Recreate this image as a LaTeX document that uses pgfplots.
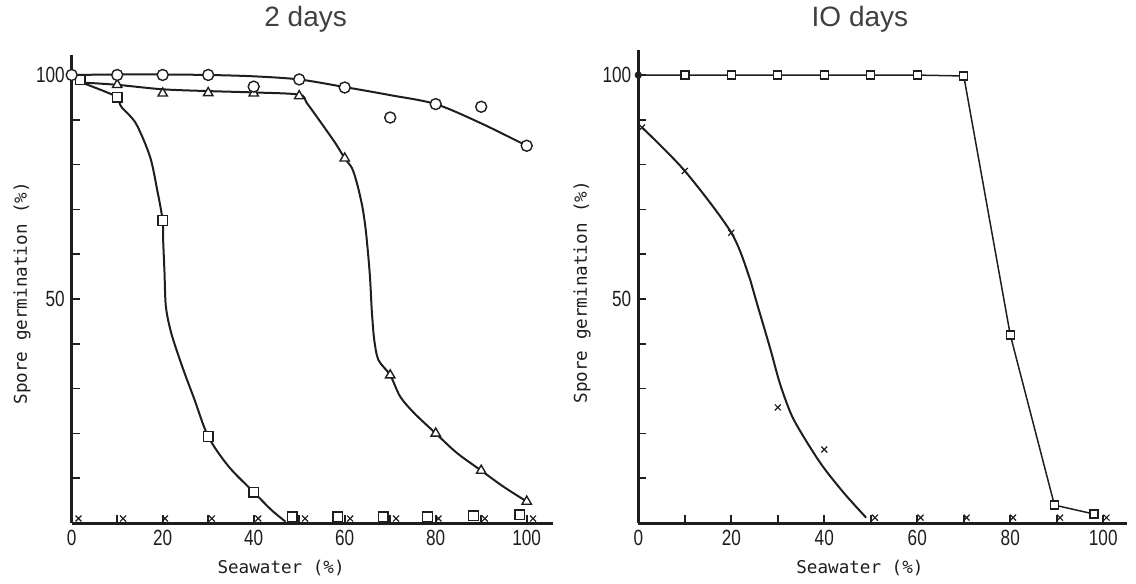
\documentclass[border=0pt]{standalone}
\usepackage{fontspec}
\usepackage{pgfplots}
\pgfplotsset{compat=1.18}
\setmainfont{Liberation Sans}
\newfontfamily\tickfont[FakeStretch=0.78]{Liberation Sans}
\newfontfamily\labelfont{DejaVu Sans Mono}
\definecolor{ink}{HTML}{1E1E1E}

\pgfplotsset{
  sporeaxis/.style={
    scale only axis,
    axis lines=left,
    axis line style={-, line width=1.5pt, ink},
    xmin=0, ymin=0,
    tick align=inside,
    major tick length=4pt,
    tick style={line width=0.8pt, ink},
    xtick={0,10,...,100},
    xticklabels={0,,20,,40,,60,,80,,100},
    ytick={10,20,...,100},
    yticklabels={,,,,50,,,,,100},
    ticklabel style={font=\tickfont\fontsize{11}{11}\selectfont, text=ink},
    /pgf/number format/assume math mode=true,
    label style={font=\labelfont\fontsize{8.8}{9}\selectfont, text=ink},
    title style={font=\fontsize{14}{14}\selectfont, text=ink!85, anchor=center},
    clip=false,
  },
  fit/.style={ink, line width=1pt, smooth, tension=0.5, mark=none},
  circ/.style={only marks, mark=*, mark size=2.75pt,
    mark options={fill=white, draw=ink, line width=0.7pt}},
  tri/.style={only marks, mark=triangle*, mark size=2.7pt,
    mark options={fill=white, draw=ink, line width=0.7pt}},
  sq/.style={only marks, mark=square*, mark size=2.4pt,
    mark options={fill=white, draw=ink, line width=0.7pt}},
  cross/.style={only marks, mark=x, mark size=2.1pt,
    mark options={draw=ink, line width=0.6pt}},
}

\begin{document}
\begin{tikzpicture}
\useasboundingbox (0,0) rectangle (568pt,-292pt);

% ---------- 2 days ----------
\begin{axis}[sporeaxis,
  at={(35.85pt,-261.5pt)}, anchor=south west,
  width=240.7pt, height=234.1pt,
  xmax=105.8, ymax=104.5,
  title={2 days},
  title style={at={(axis description cs:0.486,1)}, yshift=11.6pt},
  xlabel={Seawater (\%)},
  xlabel style={at={(axis description cs:0.435,0)}, yshift=-22.5pt, anchor=center},
  ylabel={Spore germination (\%)},
  % the label is already turned by 90 degrees, so yshift moves it to the left
  ylabel style={at={(axis description cs:0,0.491)}, yshift=24.85pt, anchor=center},
]
% fitted curves
\addplot[fit] coordinates {(0,100) (10,100.1) (20,100.1) (30,100) (40,99.7) (50,99)
  (60,97.3) (70,95.5) (80,93.5) (90,89.2) (100,84.2)};
\addplot[fit] coordinates {(2.5,98.3) (10,97.8) (20,96.8) (30,96.4) (40,96.1) (50,95.6)
  (51.7,93.7) (54.9,89.2) (58,84.7) (60,81.4) (61.6,79.2) (62.7,75.8) (63.9,70.5)
  (64.7,64.7) (65.5,55.7) (65.9,48.3) (66.1,45.3) (66.5,40.8) (67.4,36.4) (70,33)
  (72.2,28.2) (75.3,24.5) (80,20) (84.7,15.6) (90,11.7) (94.9,8.1) (100,4.8)};
\addplot[fit] coordinates {(2.5,98.2) (7.3,96.3) (10,95) (10.9,92.9) (14.1,89.2)
  (17.2,81.8) (18.8,74.3) (20,67.5) (20.1,63.2) (20.4,55.8) (20.7,48.3) (21.9,42.3)
  (24.3,34.9) (27,27.5) (30,19.3) (34.5,12.6) (40,6.9) (43.9,2.9) (47,0.3)};
% observations
\addplot[cross] coordinates {(1.5,1) (11.3,1) (20.5,1) (30.8,1) (41,1) (51.3,1)
  (61.2,1) (71.3,1) (80.6,1) (90.8,1) (101.4,1)};
\addplot[sq] coordinates {(1.9,98.9) (10,95) (20,67.5) (30,19.3) (40,6.9) (48.5,1.4)
  (58.5,1.4) (68.5,1.4) (78.2,1.4) (88.3,1.6) (98.5,1.8)};
\addplot[tri] coordinates {(10,97.8) (20,95.9) (30,96) (40,95.9) (50,95.3) (60,81.4)
  (70,33) (80,20) (90,11.7) (100,4.8)};
\addplot[circ] coordinates {(0,100) (10,100) (20,100) (30,100) (40,97.4) (50,99)
  (60,97.2) (70,90.5) (80,93.5) (90,92.9) (100,84.2)};
\end{axis}

% ---------- IO days ----------
\begin{axis}[sporeaxis,
  at={(319.15pt,-261.5pt)}, anchor=south west,
  width=244.1pt, height=236.5pt,
  xmax=105, ymax=105.6,
  title={IO days},
  title style={at={(axis description cs:0.454,1)}, yshift=9.2pt},
  xlabel={Seawater (\%)},
  xlabel style={at={(axis description cs:0.454,0)}, yshift=-22.5pt, anchor=center},
  ylabel={Spore germination (\%)},
  ylabel style={at={(axis description cs:0,0.488)}, yshift=28.15pt, anchor=center},
]
\addplot[fit] coordinates {(0.8,88.3) (10,78.6) (20,64.8) (24.1,54.2)
  (25.3,49.8) (28.3,39.2) (30.5,31) (33,24) (36,18.5) (39.7,12.6) (44.3,6.6) (49,1.2)};
\addplot[ink, line width=0.75pt, mark=none] coordinates {(0,100) (10,100) (20,100)
  (30,100) (40,100) (50,100) (60,100) (70,99.8) (80,42) (89.5,4) (98,2)};
\addplot[cross] coordinates {(0.8,88.3) (10,78.6) (20,64.8) (30,25.8) (40,16.4)
  (50.9,1.2) (60.7,1.2) (70.6,1.2) (80.6,1.2) (90.7,1.2) (100.7,1.2)};
\addplot[sq, mark size=2pt] coordinates {(10,100) (20,100) (30,100) (40,100) (50,100)
  (60,100) (70,99.8) (80,42) (89.5,4) (98,2)};
\addplot[only marks, mark=*, mark size=1.6pt, mark options={fill=ink, draw=ink}]
  coordinates {(0,100)};
\end{axis}
\end{tikzpicture}
\end{document}
